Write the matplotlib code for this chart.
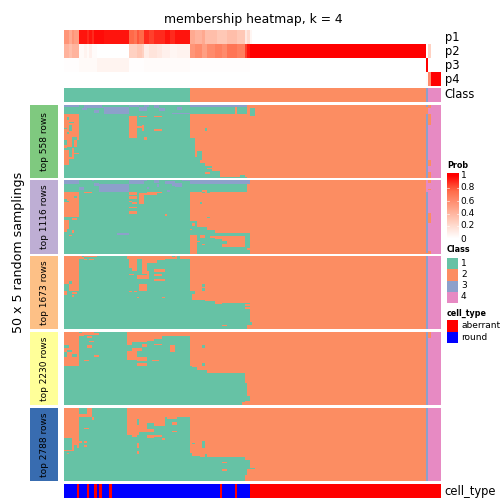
import numpy as np
import matplotlib
matplotlib.use("Agg")
import matplotlib.pyplot as plt
from matplotlib.colors import ListedColormap, LinearSegmentedColormap
from matplotlib.patches import Rectangle

plt.rcParams['font.family'] = ['DejaVu Sans']

N_SAMPLES = 150
N_ROWS = 50
TITLE = "membership heatmap, k = 4"
YLABEL = "50 x 5 random samplings"
CLASS_COLORS = ["#66C2A5", "#FC8D62", "#8DA0CB", "#E78AC3"]
CELL_COLORS = {"aberrant": "#FF0000", "round": "#0000FF"}
BLOCK_LABELS = ["top 558 rows", "top 1116 rows", "top 1673 rows", "top 2230 rows", "top 2788 rows"]
BLOCK_COLORS = ["#7FC97F", "#BEAED4", "#FDC086", "#FFFF99", "#386CB0"]

# per-sample membership probabilities, as (value, run length)
P1 = [(.55,2),(.45,1),(.55,1),(.5,2),(.95,3),(.9,1),(.95,1),(.9,1),(.97,4),(.95,10),
      (.75,2),(.7,1),(.8,1),(.75,2),(.9,2),(.85,2),(.9,4),(.95,2),(.9,2),(.95,6),
      (.45,2),(.4,3),(.45,1),(.35,5),(.3,4),(.35,4),(.3,3),(.12,1),(.2,1),(.05,1),(0,75)]
P2 = [(.4,2),(.35,1),(.4,3),(.03,2),(.07,1),(.03,1),(.08,1),(.02,2),(0,13),(.25,3),(.3,2),(.25,1),
      (.1,2),(.15,3),(.12,2),(.08,3),(.05,3),(.07,5),(.55,2),(.6,3),(.5,2),(.6,3),(.65,3),(.6,2),
      (.7,4),(.65,3),(.85,1),(.95,1),(1,70),(0,1),(.25,1),(0,4)]
P3 = [(.01,6),(.03,7),(.06,13),(.01,6),(.02,18),(.01,24),(0,70),(1,1),(0,5)]
P4 = [(0,144),(.03,1),(.6,1),(1,4)]
CLASS_RUNS = [(1,50),(2,94),(3,1),(4,5)]
RED_SAMPLES = [5,9,12,14,18,62,68] + list(range(74,150))

# (first row, end row, first sample, end sample, class)
BLOCK1 = [(0,2,0,6,3),(0,2,26,30,3),(1,2,32,34,3),(0,1,36,38,3),(1,3,36,38,3),(0,2,50,73,3),
 (2,7,50,68,1),(2,7,69,73,1),(3,8,74,76,1),(1,3,8,15,3),(2,3,15,26,3),(3,7,16,26,3),(4,6,12,14,3),(3,4,7,9,3),
 (2,5,30,33,3),(3,5,38,40,3),(6,7,43,50,3),(2,4,45,47,3),
 (7,24,0,6,2),(9,11,1,2,1),(12,13,2,4,1),(14,18,2,3,1),(16,17,0,1,1),(19,20,1,2,1),(22,24,3,5,1),
 (24,29,1,3,2),(24,29,4,5,2),(28,30,0,1,2),(31,35,0,2,2),(30,36,3,4,2),(35,41,0,2,2),(33,34,4,6,2),(36,37,2,4,2),
 (8,23,26,29,2),(8,9,30,33,2),(14,18,31,32,2),(8,9,36,39,2),(17,18,36,39,2),(22,24,32,33,2),(15,16,29,31,2),
 (16,18,56,57,1),(23,31,50,52,1),(31,36,50,52,1),(32,38,53,55,1),(36,40,50,54,1),(40,43,50,56,1),
 (42,45,50,59,1),(45,49,50,62,1),(49,50,50,73,1),(43,44,57,59,2),(46,47,56,58,2),(48,49,70,72,1),
 (2,7,144,145,2),(0,3,145,146,2),(7,14,145,146,2),(38,42,145,146,2),(46,50,145,146,2)]
BLOCK2 = [(0,3,0,6,3),(0,1,11,12,3),(0,3,26,32,3),(0,1,32,33,3),(0,2,36,38,3),(1,3,40,44,3),(3,4,43,47,3),
 (2,5,44,47,3),(0,3,50,74,3),(0,1,47,50,3),(3,8,14,26,3),(5,7,6,8,3),(2,4,12,14,3),(5,6,33,34,3),(3,5,37,38,3),(7,8,41,42,3),
 (3,8,50,73,1),(7,8,55,57,2),(8,9,55,56,1),(8,9,57,58,1),(15,16,54,55,1),(25,26,57,58,1),
 (8,25,0,6,2),(14,15,1,2,1),(11,12,4,5,1),(13,15,0,1,1),(27,33,0,2,2),(26,27,3,5,2),(33,35,0,1,2),(34,36,3,4,2),(37,38,2,3,2),
 (8,9,8,11,2),(8,10,26,29,2),(9,10,30,33,2),(11,13,26,29,2),(14,15,26,27,2),(15,16,27,29,2),(18,19,26,29,2),(21,23,26,29,2),
 (8,10,33,37,2),(8,9,37,39,2),(10,16,30,32,2),(23,24,40,41,2),(36,37,21,26,3),
 (28,37,50,53,1),(32,37,53,57,1),(36,50,53,74,1),(34,36,57,60,1),(29,31,51,52,2),(33,34,50,51,2),
 (37,39,54,56,2),(38,39,58,60,2),(38,40,60,63,2),(38,45,63,72,2),(41,43,63,65,1),(43,44,55,56,2),(41,42,53,54,2),
 (45,50,73,74,1),(46,47,73,74,2),(47,49,71,73,1),
 (0,8,144,145,4),(49,50,144,145,2),(22,29,145,146,2),(0,2,145,146,2),(6,7,145,146,2),(48,50,145,146,2)]
BLOCK3 = [(0,24,0,6,2),(19,24,0,2,1),(17,19,2,3,1),(24,27,0,1,2),(25,26,3,5,2),(27,28,3,4,2),
 (0,1,6,13,2),(1,2,6,8,2),(2,3,8,9,2),(2,3,10,12,2),(0,1,7,8,1),
 (0,2,25,50,2),(0,1,43,44,1),(0,2,45,46,1),(2,8,26,29,2),(8,10,27,29,2),(2,5,31,37,2),(5,12,31,33,2),
 (13,16,29,34,2),(10,14,33,34,2),(9,11,36,40,2),(12,14,36,39,2),(16,17,36,40,2),(12,13,26,28,2),(2,3,36,40,2),
 (19,24,30,33,2),(24,25,26,27,2),(24,25,28,29,2),(28,29,29,30,2),(28,29,39,40,2),
 (24,30,50,51,1),(24,26,51,52,1),(30,33,50,56,1),(31,33,56,60,1),(32,45,50,74,1),(45,48,50,75,1),(48,50,50,73,1),
 (19,21,55,56,1),(22,24,55,56,1),(47,48,63,65,2),(33,34,72,74,2),(35,36,72,74,2),(47,49,73,75,2),(32,33,60,63,2)]
BLOCK4 = [(0,23,0,6,2),(9,11,0,2,1),(14,17,0,1,1),(15,17,3,5,1),(12,14,1,3,1),
 (0,2,6,12,2),(2,3,6,8,2),(0,1,6,7,1),(1,2,12,14,2),(3,4,9,11,2),(6,7,10,12,2),(9,11,9,11,2),(16,17,12,14,2),(19,20,8,10,2),
 (0,3,25,50,2),(3,7,25,33,2),(7,9,25,27,2),(8,10,31,33,2),(3,6,33,36,2),(3,5,36,39,2),(8,9,36,39,2),(9,14,42,44,2),
 (11,13,27,31,2),(13,19,25,29,2),(17,20,29,33,2),(19,20,35,38,2),(21,23,29,33,2),
 (23,26,50,51,1),(24,26,51,53,1),(26,28,50,57,1),(28,50,50,72,1),(35,44,72,73,1),(44,47,72,74,1),(48,50,71,72,2),
 (9,11,55,56,1),(21,23,55,56,1),(0,4,145,146,2)]
BLOCK5 = [(0,19,0,6,2),(19,21,0,3,2),(19,30,3,4,2),(19,26,4,6,2),(29,30,0,4,2),(31,32,1,2,2),(26,28,5,6,2),
 (0,1,6,14,2),(0,6,9,11,2),(5,7,6,11,2),(7,9,11,12,2),(14,15,8,10,2),(23,24,6,7,2),(23,24,8,9,2),(26,27,8,9,2),
 (0,4,25,50,2),(4,17,25,33,2),(8,12,29,30,1),(17,19,25,30,2),(19,20,27,29,2),(4,11,33,40,2),(11,13,36,40,2),
 (15,17,33,36,2),(19,21,33,36,2),(19,20,36,39,2),(4,7,39,41,2),(4,8,41,45,2),(10,12,43,45,2),(16,17,43,45,2),(4,7,45,50,2),
 (21,22,39,40,2),(24,28,29,30,2),(30,32,29,30,2),
 (31,33,50,51,1),(24,25,51,52,1),(23,28,55,56,1),(32,34,56,57,1),(33,35,50,54,1),(34,50,50,72,1),(36,42,72,74,1),(41,42,72,76,1),(42,46,72,73,1),
 (37,38,63,65,2),(42,43,63,65,2)]
BLOCKS = [BLOCK1, BLOCK2, BLOCK3, BLOCK4, BLOCK5]


def expand(runs):
    return np.array([v for v, n in runs for _ in range(n)], dtype=float)


W = H = 504
fig = plt.figure(figsize=(7, 7), dpi=72)


def axpx(x0, y0, x1, y1):
    ax = fig.add_axes([x0 / W, 1 - y1 / H, (x1 - x0) / W, (y1 - y0) / H])
    ax.set_axis_off()
    return ax


def tx(x, y, s, **kw):
    kw.setdefault("va", "center")
    kw.setdefault("ha", "left")
    fig.text(x / W, 1 - y / H, s, **kw)


prob_cmap = LinearSegmentedColormap.from_list(
    "prob", [(0, "#FFFFFF"), (.25, "#FFD2C3"), (.5, "#FFA084"), (.75, "#FF6C4A"), (1, "#FF0000")])
class_cmap = ListedColormap(CLASS_COLORS)
X0, X1 = 64, 441

# probability tracks
for (y0, y1), runs in zip([(30, 44), (44, 58), (58, 72), (72, 86)], [P1, P2, P3, P4]):
    ax = axpx(X0, y0, X1, y1)
    ax.imshow(expand(runs)[None, :], cmap=prob_cmap, vmin=0, vmax=1, aspect="auto", interpolation="nearest")

# class track
classes = expand(CLASS_RUNS)
ax = axpx(X0, 88, X1, 102)
ax.imshow(classes[None, :], cmap=class_cmap, vmin=1, vmax=4, aspect="auto", interpolation="nearest")

# consensus blocks
BLOCK_Y = [(105, 178), (180, 254), (256, 329), (332, 405), (408, 481)]
for (y0, y1), patches, label, col in zip(BLOCK_Y, BLOCKS, BLOCK_LABELS, BLOCK_COLORS):
    mat = np.tile(classes, (N_ROWS, 1))
    for r0, r1, c0, c1, k in patches:
        mat[r0:r1, c0:c1] = k
    ax = axpx(X0, y0, X1, y1)
    ax.imshow(mat, cmap=class_cmap, vmin=1, vmax=4, aspect="auto", interpolation="nearest")
    sx = axpx(30, y0, 58, y1)
    sx.add_patch(Rectangle((0, 0), 1, 1, color=col, lw=0, transform=sx.transAxes))
    tx(44.5, (y0 + y1) / 2, label, rotation=90, ha="center", fontsize=9, color="black")

# cell type track
cell = np.zeros(N_SAMPLES)
cell[RED_SAMPLES] = 1
ax = axpx(X0, 484, X1, 498)
ax.imshow(cell[None, :], cmap=ListedColormap([CELL_COLORS["round"], CELL_COLORS["aberrant"]]),
          vmin=0, vmax=1, aspect="auto", interpolation="nearest")

# texts
tx(253, 20, TITLE, ha="center", fontsize=12.4)
tx(19, 252, YLABEL, rotation=90, ha="center", fontsize=12.6)
for y, s in zip([37, 52, 66, 80, 95, 491], ["p1", "p2", "p3", "p4", "Class", "cell_type"]):
    tx(444.5, y, s, fontsize=11.5)

# Prob legend
tx(447, 165, "Prob", fontsize=8, fontweight="bold")
ax = axpx(447, 173, 459, 240)
vals = np.linspace(1.03, -0.02, 67)[:, None]
ax.imshow(vals, cmap=prob_cmap, vmin=0, vmax=1, aspect="auto", interpolation="bilinear",
          extent=(0, 1, 0, 1))
for t, s in zip([175, 188, 201, 214, 226, 239], ["1", "0.8", "0.6", "0.4", "0.2", "0"]):
    tx(460.5, t, s, fontsize=9)
    if s not in ("1", "0"):
        for a, b in ((0, .18), (.82, 1)):
            ax.plot([a, b], [1 - (t - 173) / 67] * 2, color="white", lw=0.6, transform=ax.transAxes)

# Class legend
tx(447, 250, "Class", fontsize=8, fontweight="bold")
ax = axpx(447, 258, 458, 303)
for i, c in enumerate(CLASS_COLORS):
    ax.add_patch(Rectangle((0, 1 - (i + 1) / 4), 1, .25, color=c, lw=0, transform=ax.transAxes))
    tx(461, 264 + i * 10.9, str(i + 1), fontsize=9)

# cell type legend
tx(447, 313, "cell_type", fontsize=8, fontweight="bold")
ax = axpx(447, 320, 458, 343)
for i, name in enumerate(["aberrant", "round"]):
    ax.add_patch(Rectangle((0, 1 - (i + 1) / 2), 1, .5, color=CELL_COLORS[name], lw=0, transform=ax.transAxes))
    tx(461, 326 + i * 12, name, fontsize=9)

fig.savefig("out.png", dpi=72)
